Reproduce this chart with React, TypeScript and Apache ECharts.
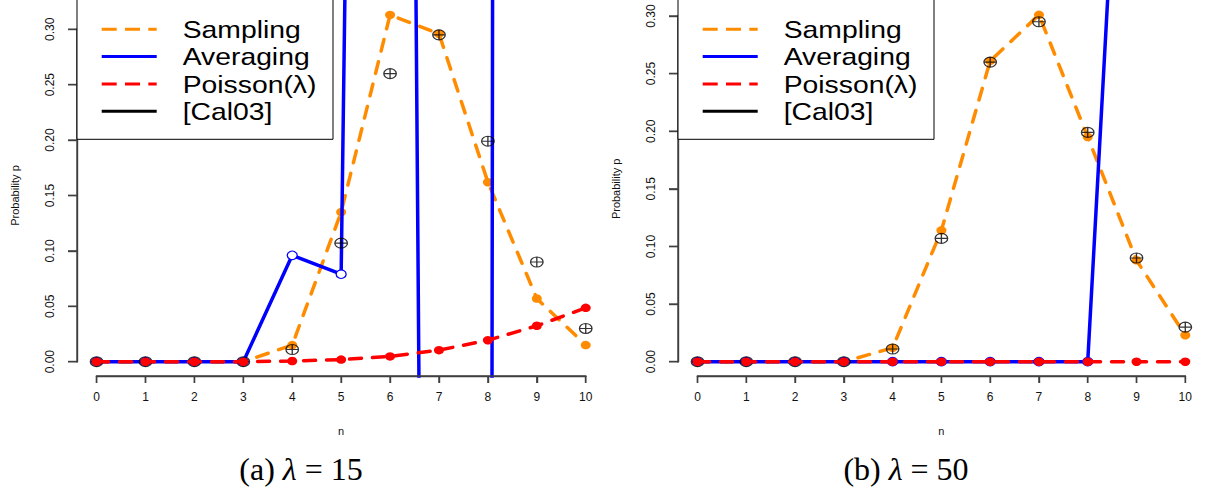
import { useEffect, useRef } from "react";
import * as echarts from "echarts";

// ---------- data ----------
const nValues = [0, 1, 2, 3, 4, 5, 6, 7, 8, 9, 10];
const yTickValues = [0, 0.05, 0.1, 0.15, 0.2, 0.25, 0.3];

// panel (a): lambda = 15
const samplingA = [0, 0, 0, 0, 0.015, 0.135, 0.313, 0.296, 0.162, 0.057, 0.015];
const averagingA = [0, 0, 0, 0, 0.096, 0.079, 3.35, -2.35, -2.54, 27.5, 40];
const poissonA = [0, 0, 0, 0, 0.0006, 0.0019, 0.0048, 0.0104, 0.0194, 0.0324, 0.0486];

// panel (b): lambda = 50
const samplingB = [0, 0, 0, 0, 0.012, 0.114, 0.261, 0.301, 0.195, 0.088, 0.023];
const averagingB = [0, 0, 0, 0, 0, 0, 0, 0, 0, 0.77, 1.6];
const poissonB = [0, 0, 0, 0, 0, 0, 0, 0, 0, 0, 0];

// [Cal03] reference values (same in both panels)
const cal03 = [0, 0, 0, 0, 0.011, 0.107, 0.26, 0.295, 0.199, 0.09, 0.03];

const legendLabels = ["Sampling", "Averaging", "Poisson(λ)", "[Cal03]"];
const panelTags = ["(a)", "(b)"];
const panelLambdas = ["15", "50"];
const xAxisTitle = "n";
const yAxisTitle = "Probability p";

// ---------- styles / layout ----------
const ORANGE = "#FF8C00";
const BLUE = "#0000FF";
const RED = "#FF0000";
const AXIS = "#404040";
const AXIS_W = 1.4;
const SANS = "'Liberation Sans', Arial, Helvetica, sans-serif";
const SERIF = "'Liberation Serif', 'Times New Roman', serif";
const OPLUS = "path://M10 0A10 10 0 1 1 10 20A10 10 0 1 1 10 0ZM0 10L20 10M10 0L10 20";
const DASH = [12, 11];

const ZERO_Y = 361.7; // pixel row of p = 0
const PLOT_BOTTOM = 376;
const X_TICK_LEN = 7;
const Y_TICK_LEN = 9;

const panels = [
  { plotLeft: 77, plotWidth: 528.3, top30: 29.3, captionX: 301 },
  { plotLeft: 678, plotWidth: 526.8, top30: 16, captionX: 906 },
];

const pts = (ys: number[]) => nValues.map((n, i) => [n, ys[i]]);

export default function App() {
  const ref = useRef<HTMLDivElement>(null);

  useEffect(() => {
    if (!ref.current) return;
    const chart = echarts.init(ref.current, undefined, { renderer: "svg" });

    const grids: any[] = [];
    const xAxes: any[] = [];
    const yAxes: any[] = [];
    const series: any[] = [];
    const graphics: any[] = [];

    const seriesData = [
      [samplingA, averagingA, poissonA],
      [samplingB, averagingB, poissonB],
    ];

    // thin filled bar used for axis lines and ticks
    const bar = (x: number, y: number, w: number, h: number) => ({
      type: "rect", z: 120, silent: true,
      shape: { x, y, width: w, height: h },
      style: { fill: AXIS, stroke: null },
    });

    panels.forEach((p, pi) => {
      const pxPerUnit = (ZERO_Y - p.top30) / 0.3;
      const yMin = -(PLOT_BOTTOM - ZERO_Y) / pxPerUnit;
      const yMax = ZERO_Y / pxPerUnit;
      const xStep = p.plotWidth / 10.8;
      const axLeft = p.plotLeft + 0.4 * xStep;
      const axRight = axLeft + 10 * xStep;

      // data grid (full plot region, hidden axes, clips the lines)
      grids.push({ left: p.plotLeft, top: 0, width: p.plotWidth, height: PLOT_BOTTOM });
      // axis grid (spans ticks 0..10 and 0..0.30)
      grids.push({ left: axLeft, top: p.top30, width: 10 * xStep, height: ZERO_Y - p.top30 });

      const dg = pi * 2;
      const ag = pi * 2 + 1;

      xAxes.push({
        gridIndex: dg, type: "value", min: -0.4, max: 10.4, show: false,
        splitLine: { show: false },
      });
      yAxes.push({
        gridIndex: dg, type: "value", min: yMin, max: yMax, show: false,
        splitLine: { show: false },
      });
      xAxes.push({
        gridIndex: ag, type: "value", min: 0, max: 10, interval: 1, position: "bottom",
        offset: PLOT_BOTTOM - ZERO_Y,
        axisLine: { show: true, onZero: false, lineStyle: { color: AXIS, width: AXIS_W } },
        axisTick: { show: true, length: X_TICK_LEN, lineStyle: { color: AXIS, width: AXIS_W } },
        axisLabel: { show: true, margin: 15, fontSize: 12, color: "#111", fontFamily: SANS },
        splitLine: { show: false },
        name: xAxisTitle, nameLocation: "middle", nameGap: 49,
        nameTextStyle: { fontSize: 11, color: "#111", fontFamily: SANS },
      });
      yAxes.push({
        gridIndex: ag, type: "value", min: 0, max: 0.3, interval: 0.05, position: "left",
        offset: axLeft - p.plotLeft,
        axisLine: { show: true, onZero: false, lineStyle: { color: AXIS, width: AXIS_W } },
        axisTick: { show: true, length: Y_TICK_LEN, lineStyle: { color: AXIS, width: AXIS_W } },
        axisLabel: {
          show: true, rotate: 90, margin: 21, fontSize: 12, color: "#111", fontFamily: SANS,
          formatter: (v: number) => v.toFixed(2),
        },
        splitLine: { show: false },
        name: yAxisTitle, nameLocation: "middle", nameGap: 57,
        nameTextStyle: { fontSize: 11, color: "#111", fontFamily: SANS },
      });

      const [samp, avg, pois] = seriesData[pi];
      series.push(
        {
          type: "line", name: legendLabels[0], xAxisIndex: dg, yAxisIndex: dg, z: 2,
          data: pts(samp), symbol: "circle", symbolSize: [10, 8.5],
          itemStyle: { color: ORANGE },
          lineStyle: { color: ORANGE, width: 3.5, type: DASH, cap: "round" },
          silent: true,
        },
        {
          type: "line", name: legendLabels[1], xAxisIndex: dg, yAxisIndex: dg, z: 3,
          data: pts(avg), symbol: "circle", symbolSize: [10, 8.5],
          itemStyle: { color: "#ffffff", borderColor: BLUE, borderWidth: 1.2 },
          lineStyle: { color: BLUE, width: 3.5 },
          silent: true,
        },
        {
          type: "scatter", name: legendLabels[3], xAxisIndex: dg, yAxisIndex: dg, z: 4,
          data: pts(cal03), symbol: OPLUS, symbolSize: [12.5, 10],
          itemStyle: { color: "rgba(0,0,0,0)", borderColor: "#000", borderWidth: 1.2 },
          silent: true,
        },
        {
          type: "line", name: legendLabels[2], xAxisIndex: dg, yAxisIndex: dg, z: 5,
          data: pts(pois), symbol: "circle", symbolSize: [10, 8.5],
          itemStyle: { color: RED },
          lineStyle: { color: RED, width: 3.5, type: DASH, cap: "round" },
          silent: true,
        }
      );

      // R-style axis lines and ticks as thin filled bars, on the axis grid's scale
      const xTickPx = nValues.map((n) => axLeft + n * xStep);
      const yTickPx = yTickValues.map((v) => ZERO_Y - v * pxPerUnit);
      const hw = AXIS_W / 2;
      graphics.push(bar(axLeft - hw, PLOT_BOTTOM - hw, axRight - axLeft + AXIS_W, AXIS_W));
      xTickPx.forEach((x) => graphics.push(bar(x - hw, PLOT_BOTTOM, AXIS_W, X_TICK_LEN)));
      const yTop = yTickPx[yTickPx.length - 1];
      graphics.push(bar(p.plotLeft - hw, yTop - hw, AXIS_W, yTickPx[0] - yTop + AXIS_W));
      yTickPx.forEach((y) => graphics.push(bar(p.plotLeft - Y_TICK_LEN, y - hw, Y_TICK_LEN, AXIS_W)));

      // legend box (R style)
      const bx = p.plotLeft;
      graphics.push({
        type: "rect", z: 130, silent: true,
        shape: { x: bx, y: -1, width: 256, height: 140.3 },
        style: { fill: "#fff", stroke: "#000", lineWidth: 1 },
      });
      const legendStyles = [
        { stroke: ORANGE, dash: [15, 8.3] },
        { stroke: BLUE, dash: null },
        { stroke: RED, dash: [15, 8.3] },
        { stroke: "#000", dash: null },
      ];
      legendLabels.forEach((lab, i) => {
        const y = 29.3 + i * 27.3;
        graphics.push({
          type: "line", z: 131, silent: true,
          shape: { x1: bx + 24.7, y1: y, x2: bx + 79.7, y2: y },
          style: {
            stroke: legendStyles[i].stroke, lineWidth: 3,
            lineDash: legendStyles[i].dash || undefined,
          },
        });
        graphics.push({
          type: "text", z: 131, silent: true, x: bx + 105.7, y: y + 0.5, scaleX: 1.18,
          style: {
            text: lab, fontSize: 24, fontFamily: SANS, fill: "#000",
            align: "left", verticalAlign: "middle",
            textAlign: "left", textVerticalAlign: "middle",
          },
        });
      });

      // sub-caption
      graphics.push({
        type: "text", z: 131, silent: true, x: p.captionX, y: 469,
        style: {
          text: `{n|${panelTags[pi]} }{i|λ}{n| = ${panelLambdas[pi]}}`,
          rich: {
            n: { fontSize: 32, fontFamily: SERIF, fill: "#000" },
            i: { fontSize: 32, fontFamily: SERIF, fontStyle: "italic", fill: "#000" },
          },
          align: "center", verticalAlign: "middle",
          textAlign: "center", textVerticalAlign: "middle",
        },
      });
    });

    chart.setOption({
      animation: false,
      backgroundColor: "#fff",
      grid: grids,
      xAxis: xAxes,
      yAxis: yAxes,
      series,
      graphic: graphics,
    });

    return () => chart.dispose();
  }, []);

  return (
    <div
      ref={ref}
      style={{ position: "absolute", left: 0, top: 0, width: 1206, height: 489, background: "#fff" }}
    />
  );
}
